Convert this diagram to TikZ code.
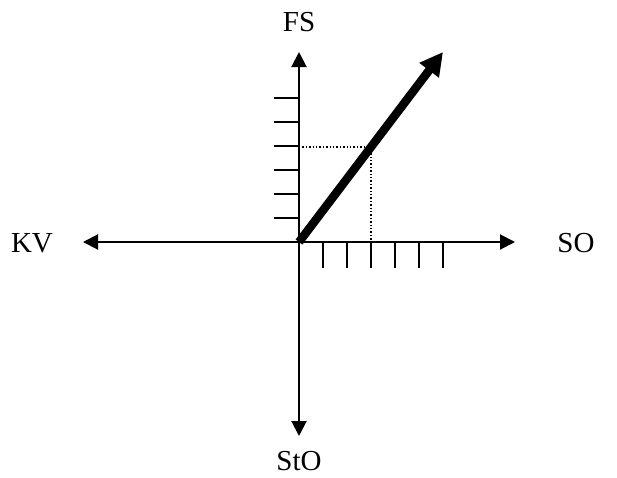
\documentclass[tikz,border=0pt]{standalone}
\usepackage{fontspec}
\setmainfont{Liberation Serif}
\usetikzlibrary{arrows.meta,calc}
\tikzset{
  axis/.style={line width=2pt, -{Triangle[length=15pt,width=15pt]}},
  tickmark/.style={line width=2pt},
  vec/.style={line width=8.5pt, -{Triangle[length=23pt,width=23pt]}},
  guide/.style={line width=1.4pt, dotted},
  lbl/.style={font=\fontsize{29}{30}\selectfont, inner sep=0pt}
}
\begin{document}
\begin{tikzpicture}[x=1pt, y=-1pt]
\useasboundingbox (0,0) rectangle (617,477);
% axes
\coordinate (O) at (299,242);
\coordinate (E) at (515,242);
\coordinate (W) at (83,242);
\coordinate (N) at (299,52);
\coordinate (S) at (299,436);
\node[lbl] (so) at (576,243) {SO};
\node[lbl] (kv) at (32,243) {KV};
\node[lbl] (fs) at (299,22) {FS};
\node[lbl] (sto) at (299,461) {StO};
\draw[axis] (O) -- (E);
\draw[axis] (O) -- (W);
\draw[axis] (O) -- (N);
\draw[axis] (O) -- (S);
% ticks
\foreach \k in {1,...,6} {
  \draw[tickmark] ($(O)+(-25,-24*\k)$) -- ($(O)+(0,-24*\k)$);
  \draw[tickmark] ($(O)+(24*\k,0)$) -- ($(O)+(24*\k,26)$);
}
% vector and its projections
\coordinate (tip) at (443,52);
\coordinate (P) at ($(O)+(72,-95)$);
\draw[guide] ($(O)+(0,-95)$) -- (P) -- ($(O)+(72,0)$);
\draw[vec] (O) -- (tip);
\end{tikzpicture}
\end{document}
